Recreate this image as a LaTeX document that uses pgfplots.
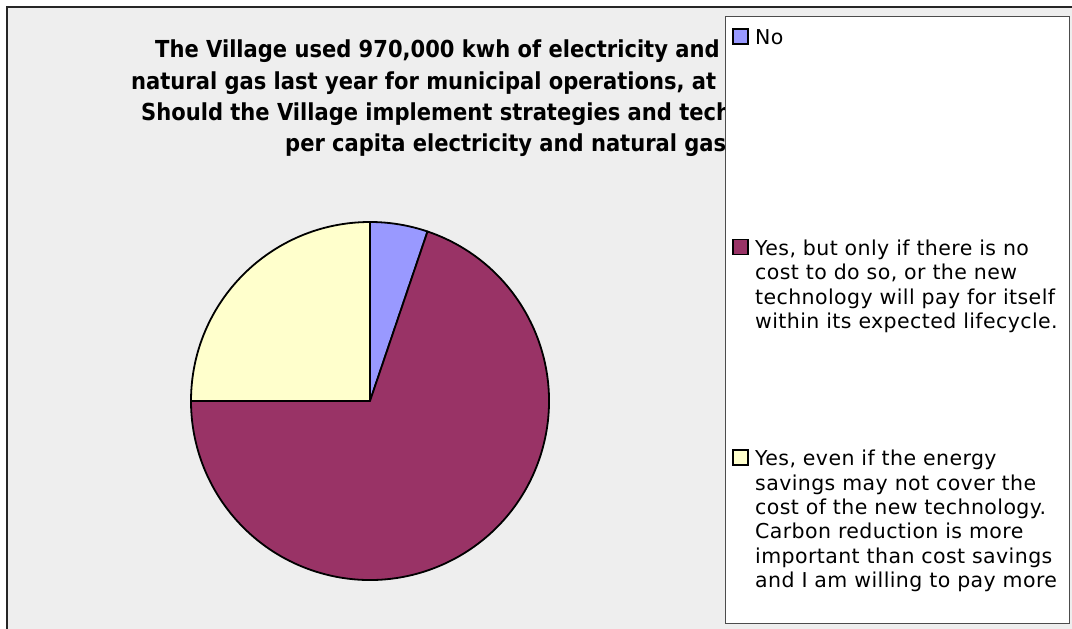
\documentclass[border=0pt]{standalone}
\usepackage{pgfplots}
\usepackage{pgfplotstable}
\pgfplotsset{compat=1.18}
\usepackage{fontspec}
\setmainfont{DejaVu Sans}
\newfontfamily\condfont{DejaVu Sans Condensed}
\newfontfamily\legfont{DejaVu Sans}[LetterSpace=2]

\definecolor{chartbg}{HTML}{EEEEEE}
\definecolor{cNo}{HTML}{9999FF}
\definecolor{cMid}{HTML}{993366}
\definecolor{cYes}{HTML}{FFFFCC}

% answers to the survey question (counts)
\pgfplotstableread{
answer value color
No 5 cNo
CostNeutral 67 cMid
CarbonFirst 24 cYes
}\piedata

\begin{document}
\begin{tikzpicture}[x=1pt,y=1pt]
  \useasboundingbox (0,0) rectangle (1072,629);
  \fill[white] (0,0) rectangle (1072,629);
  \fill[chartbg] (7,0) rectangle (1072,622);
  \draw[line width=2pt, black!85] (7,0) -- (7,622) -- (1072,622);

  % title (partly hidden behind the legend)
  \begin{scope}[every node/.style={anchor=base west, inner sep=0pt, font=\condfont\bfseries\fontsize{23.4}{28}\selectfont}]
    \node at (155,571) {The Village used 970,000 kwh of electricity and};
    \node at (131,539) {natural gas last year for municipal operations, at};
    \node at (141,508) {Should the Village implement strategies and tech};
    \node at (285,477) {per capita electricity and natural gas};
  \end{scope}

  \begin{axis}[
    hide axis,
    anchor=center,
    at={(370pt,228pt)},
    x=179pt, y=179pt,
    xmin=-1, xmax=1, ymin=-1, ymax=1,
    clip=false,
  ]
    \pgfplotstablegetrowsof{\piedata}
    \pgfmathtruncatemacro\lastrow{\pgfplotsretval-1}
    \def\total{0}
    \pgfplotsforeachungrouped \i in {0,...,\lastrow}{%
      \pgfplotstablegetelem{\i}{value}\of\piedata
      \pgfmathsetmacro\total{\total+\pgfplotsretval}}
    \def\cum{0}
    \pgfplotsforeachungrouped \i in {0,...,\lastrow}{%
      \pgfplotstablegetelem{\i}{value}\of\piedata
      \let\val\pgfplotsretval
      \pgfplotstablegetelem{\i}{color}\of\piedata
      \let\col\pgfplotsretval
      \pgfmathsetmacro\aa{90-\cum/\total*360}
      \pgfmathsetmacro\bb{90-(\cum+\val)/\total*360}
      \pgfmathsetmacro\cum{\cum+\val}
      \edef\slice{\noexpand\filldraw[fill=\col, draw=black, line width=1.8pt, line join=round]
        (axis cs:0,0) -- ++(\aa:179pt) arc[start angle=\aa, end angle=\bb, radius=179pt] -- cycle;}
      \slice
    }
  \end{axis}

  % legend
  \filldraw[fill=white, draw=black!70, line width=1pt] (725,5) rectangle (1069,612);
  \begin{scope}[every node/.style={anchor=base west, inner sep=0pt, font=\legfont\fontsize{20.5}{24}\selectfont}]
    \filldraw[fill=cNo, draw=black, line width=1.2pt] (733,585) rectangle (748,600);
    \node at (755,584) {No};
    \filldraw[fill=cMid, draw=black, line width=1.2pt] (733,374.5) rectangle (748,389.5);
    \foreach \t [count=\k from 0] in {{Yes, but only if there is no},{cost to do so, or the new},{technology will pay for itself},{within its expected lifecycle.}}
      \node at (755,373.5-24.3*\k) {\t};
    \filldraw[fill=cYes, draw=black, line width=1.2pt] (733,164) rectangle (748,179);
    \foreach \t [count=\k from 0] in {{Yes, even if the energy},{savings may not cover the},{cost of the new technology.},{Carbon reduction is more},{important than cost savings},{and I am willing to pay more}}
      \node at (755,163-24.3*\k) {\t};
  \end{scope}
\end{tikzpicture}
\end{document}
